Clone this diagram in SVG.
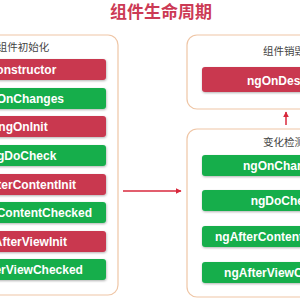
<svg xmlns="http://www.w3.org/2000/svg" width="300" height="300" viewBox="0 0 300 300">
<defs>
<style>
.box{fill:#fff;stroke:#efc6a6;stroke-width:1.2}
.lbl{font-family:"Noto Sans CJK SC","Noto Sans",sans-serif;font-size:10.5px;fill:#444;text-anchor:middle}
.red{fill:#c9374f}
.green{fill:#14ae4c}
.bt{font-family:"Liberation Sans","Noto Sans",sans-serif;font-weight:bold;font-size:12px;fill:#fff;text-anchor:middle}
.bar{filter:url(#sh)}
.con{stroke:#d8283c;stroke-width:1.5;fill:none}
</style>
<filter id="sh" x="-10%" y="-30%" width="120%" height="160%">
<feDropShadow dx="0.5" dy="1" stdDeviation="0.8" flood-color="#000" flood-opacity="0.3"/>
</filter>
<marker id="ah" viewBox="0 0 10 10" refX="9" refY="5" markerWidth="4" markerHeight="4" orient="auto">
<path d="M0,0 L10,5 L0,10 z" fill="#d8283c"/>
</marker>
</defs>
<rect width="300" height="300" fill="#fff"/>
<text x="161" y="18" font-family="Noto Sans CJK SC,sans-serif" font-weight="bold" font-size="17" fill="#cc3a55" text-anchor="middle">组件生命周期</text>

<g id="init">
<rect class="box" x="-40" y="35" width="158" height="260" rx="10"/>
<text class="lbl" x="23" y="51">组件初始化</text>
<rect class="bar red" x="-60" y="59" width="166" height="21" rx="3"/>
<text class="bt" x="23" y="74">constructor</text>
<rect class="bar green" x="-60" y="88" width="166" height="21" rx="3"/>
<text class="bt" x="23" y="103">ngOnChanges</text>
<rect class="bar red" x="-60" y="116" width="166" height="21" rx="3"/>
<text class="bt" x="23" y="131">ngOnInit</text>
<rect class="bar green" x="-60" y="145" width="166" height="21" rx="3"/>
<text class="bt" x="23" y="160">ngDoCheck</text>
<rect class="bar red" x="-60" y="174" width="166" height="21" rx="3"/>
<text class="bt" x="23" y="189">ngAfterContentInit</text>
<rect class="bar green" x="-60" y="202" width="166" height="21" rx="3"/>
<text class="bt" x="23" y="217">ngAfterContentChecked</text>
<rect class="bar red" x="-60" y="231" width="166" height="21" rx="3"/>
<text class="bt" x="23" y="246">ngAfterViewInit</text>
<rect class="bar green" x="-60" y="259" width="166" height="21" rx="3"/>
<text class="bt" x="23" y="274">ngAfterViewChecked</text>
</g>

<g id="destroy">
<rect class="box" x="187" y="35" width="200" height="74" rx="10"/>
<text class="lbl" x="284" y="55">组件销毁</text>
<rect class="bar red" x="202" y="67" width="166" height="25" rx="3"/>
<text class="bt" x="285" y="84.5" font-size="13">ngOnDestroy</text>
</g>

<g id="detect">
<rect class="box" x="187" y="129" width="200" height="168" rx="10"/>
<text class="lbl" x="284" y="146">变化检测</text>
<rect class="bar green" x="202" y="155" width="166" height="21" rx="3"/>
<text class="bt" x="284" y="170">ngOnChanges</text>
<rect class="bar green" x="202" y="190" width="166" height="21" rx="3"/>
<text class="bt" x="284" y="205">ngDoCheck</text>
<rect class="bar green" x="202" y="226" width="166" height="21" rx="3"/>
<text class="bt" x="284" y="241">ngAfterContentChecked</text>
<rect class="bar green" x="202" y="262" width="166" height="21" rx="3"/>
<text class="bt" x="284" y="277">ngAfterViewChecked</text>
</g>

<g id="connectors">
<line class="con" x1="123" y1="191" x2="181" y2="191" marker-end="url(#ah)"/>
<line class="con" x1="286" y1="125" x2="286" y2="112" marker-end="url(#ah)"/>
</g>
</svg>
